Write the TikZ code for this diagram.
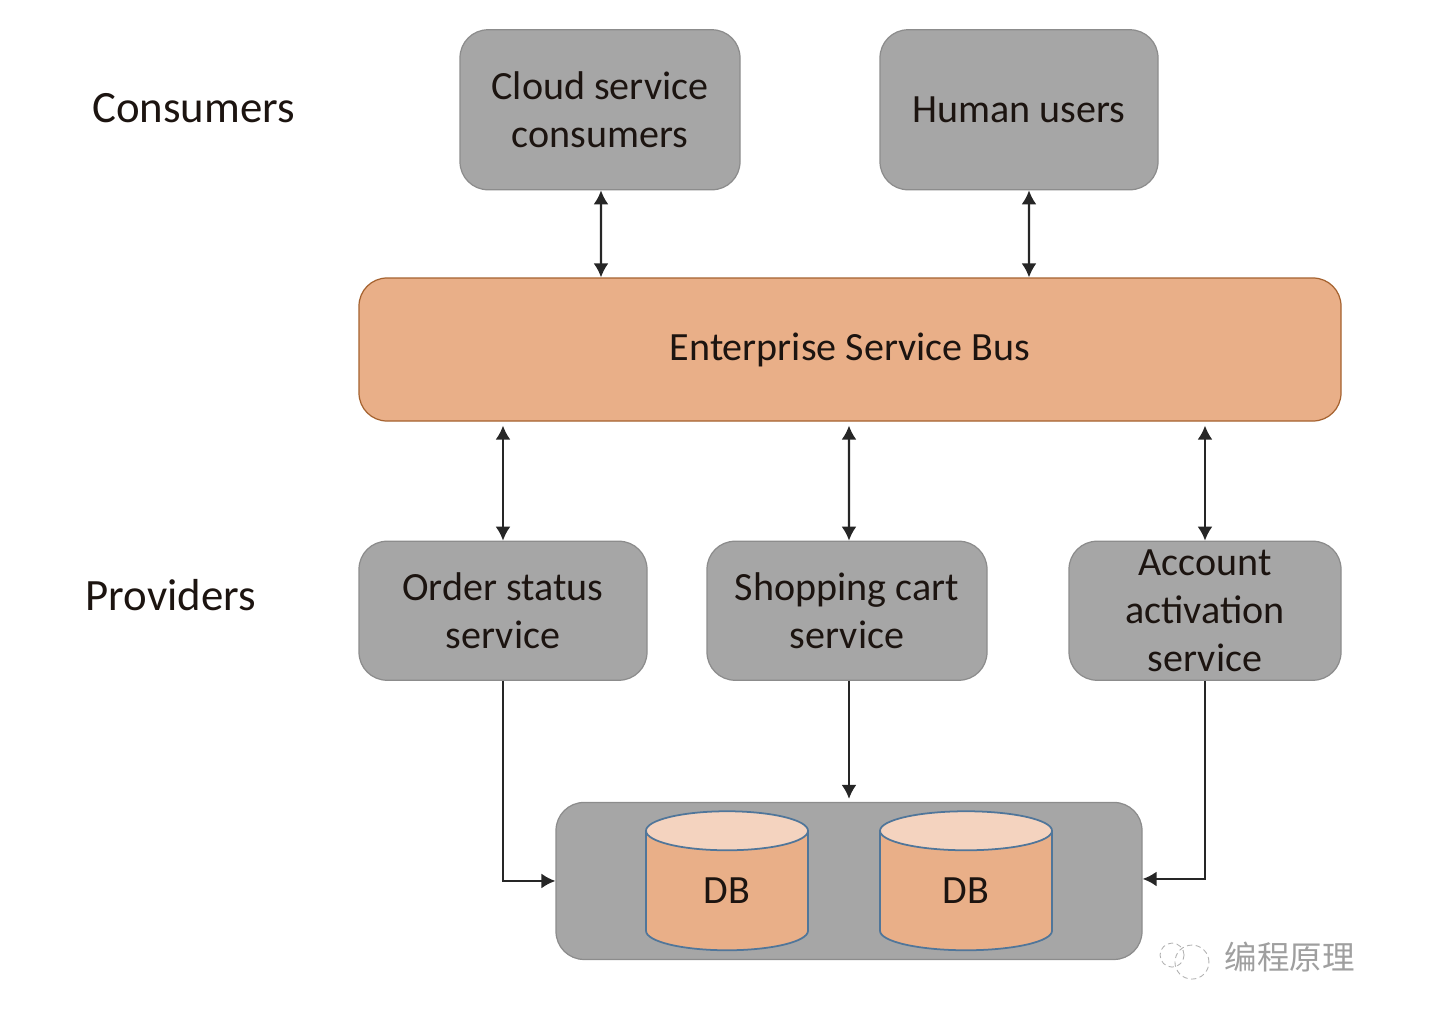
\documentclass[tikz,border=0pt]{standalone}
\usepackage{fontspec}
\setmainfont{Carlito}
\newfontfamily\cjkfont{Noto Sans CJK SC}
\usetikzlibrary{shapes.geometric, arrows.meta, positioning}
\definecolor{boxgray}{HTML}{A6A6A6}
\definecolor{boxline}{HTML}{8C8C8C}
\definecolor{busfill}{HTML}{E9AF88}
\definecolor{busline}{HTML}{A5622F}
\definecolor{dbtop}{HTML}{F4D3BF}
\definecolor{dbline}{HTML}{50769A}
\definecolor{inktext}{HTML}{1C1410}

\begin{document}
\begin{tikzpicture}[
  box/.style={rectangle, rounded corners=0.56cm, draw=boxline, line width=0.7pt, fill=boxgray, align=center, text=inktext, inner sep=0pt, font=\fontsize{22.8}{27.2}\selectfont},
  bus/.style={box, draw=busline, fill=busfill, minimum width=19.64cm, minimum height=2.86cm},
  consumer/.style={box, minimum height=3.2cm},
  provider/.style={box, minimum height=2.78cm},
  dbcyl/.style={cylinder, shape border rotate=90, shape aspect=0.84, draw=dbline, line width=1pt, minimum height=2.78cm, cylinder uses custom fill, cylinder body fill=busfill, cylinder end fill=dbtop, inner sep=0pt, text=inktext, font=\fontsize{22.8}{27.2}\selectfont},
  caption/.style={inner sep=0pt, text=inktext, font=\fontsize{25.5}{27}\selectfont},
  link/.style={draw=black!85, line width=1.2pt},
  >={Latex[length=0.28cm, width=0.3cm]}
]
\useasboundingbox (0,0) rectangle (29.04,-20.24);

\node[bus] (esb) at (17,-6.99) {Enterprise Service Bus};

\node[consumer, minimum width=5.6cm, above=1.74cm of esb, xshift=-5cm] (cloud) {Cloud service\\consumers};
\node[consumer, minimum width=5.56cm, above=1.74cm of esb, xshift=3.38cm] (human) {Human users};

\node[provider, minimum width=5.76cm, below=2.38cm of esb, xshift=-6.94cm] (order) {Order status\\service};
\node[provider, minimum width=5.6cm, below=2.38cm of esb, xshift=-0.06cm] (cart) {Shopping cart\\service};
\node[provider, minimum width=5.44cm, below=2.38cm of esb, xshift=7.1cm] (account) {Account\\activation\\service};

\node[box, minimum width=11.72cm, minimum height=3.14cm, below=2.42cm of cart, xshift=0.04cm] (store) {};
\node[dbcyl, minimum width=3.24cm, xshift=-2.44cm, yshift=-0.2cm] (db1) at (store) {DB};
\node[dbcyl, minimum width=3.44cm, xshift=2.34cm, yshift=-0.2cm] (db2) at (store) {DB};

\node[caption, left=3.28cm of cloud, yshift=0.04cm] (consumers) {Consumers};
\node[caption, left=2.04cm of order, yshift=0.31cm] (providers) {Providers};

% watermark
\node[inner sep=0pt, text=gray!75, font=\cjkfont\fontsize{18.5}{20}\selectfont, right=4.25cm of store.south east, anchor=east, yshift=0.06cm] (mark) {编程原理};
\node[circle, draw=gray!60, densely dashed, line width=0.5pt, minimum size=0.68cm, inner sep=0pt, left=0.3cm of mark, yshift=-0.1cm] (markb) {};
\node[circle, draw=gray!60, densely dashed, line width=0.5pt, minimum size=0.48cm, inner sep=0pt, left=-0.2cm of markb, yshift=0.14cm] (marka) {};

\draw[link, <->] ([xshift=0.02cm]cloud.south) -- ([xshift=-4.98cm]esb.north);
\draw[link, <->] ([xshift=0.2cm]human.south) -- ([xshift=3.58cm]esb.north);

\draw[link, <->] ([xshift=-6.94cm, yshift=-0.08cm]esb.south) -- (order.north);
\draw[link, <->] ([yshift=-0.08cm, xshift=-0.02cm]esb.south) -- ([xshift=0.04cm]cart.north);
\draw[link, <->] ([xshift=7.1cm, yshift=-0.08cm]esb.south) -- (account.north);

\draw[link, ->] (order.south) |- (store.west);
\draw[link, ->] ([xshift=0.04cm]cart.south) -- ([yshift=0.06cm]store.north);
\draw[link, ->] (account.south) |- ([yshift=0.04cm]store.east);

\end{tikzpicture}
\end{document}
